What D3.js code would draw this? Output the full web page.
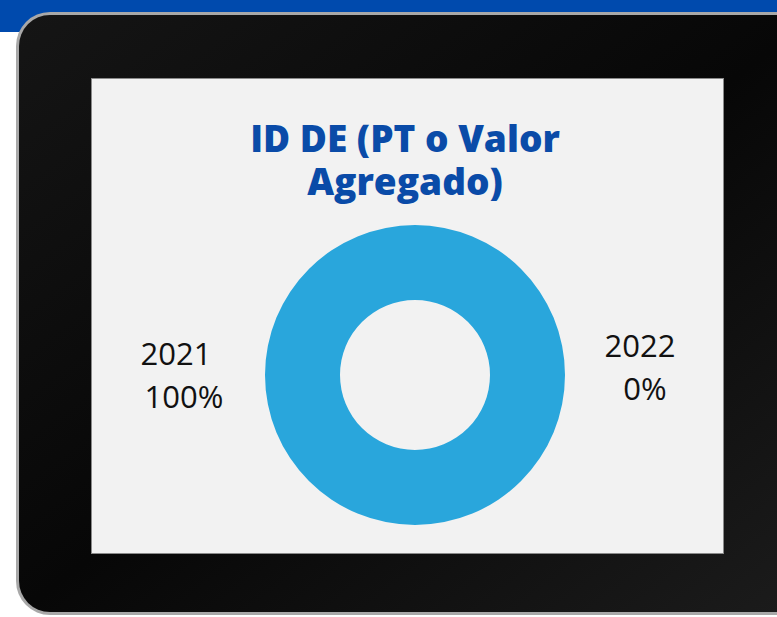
<!DOCTYPE html>
<html>
<head>
<meta charset="utf-8">
<script src="https://d3js.org/d3.v7.min.js"></script>
<style>
  body { margin: 0; background: #fff; }
  svg { display: block; }
</style>
</head>
<body>
<svg id="chart" width="777" height="617"></svg>
<script>
// chart data
var years = ["2021", "2022"];
var shares = [100, 0];
var title = ["ID DE (PT o Valor", "Agregado)"];

var W = 777, H = 617;
var svg = d3.select("#chart");
var defs = svg.append("defs");

// bezel gradient
var g1 = defs.append("linearGradient").attr("id", "bezel")
  .attr("x1", 0).attr("y1", 0).attr("x2", 1).attr("y2", 1);
g1.append("stop").attr("offset", "0%").attr("stop-color", "#151515");
g1.append("stop").attr("offset", "50%").attr("stop-color", "#070707");
g1.append("stop").attr("offset", "100%").attr("stop-color", "#1c1c1c");

// blue band behind the tablet
svg.append("rect").attr("x", 0).attr("y", 0).attr("width", W).attr("height", 32)
  .attr("fill", "#004aad");

// tablet body
svg.append("rect").attr("x", 16).attr("y", 12).attr("width", 800).attr("height", 603)
  .attr("rx", 34).attr("fill", "#a8a8a8");
svg.append("rect").attr("x", 19).attr("y", 15).attr("width", 800).attr("height", 597)
  .attr("rx", 31).attr("fill", "url(#bezel)");

// screen
var sx = 92, sy = 79, sw = 631, sh = 474;
svg.append("rect").attr("x", sx - 1).attr("y", sy - 1).attr("width", sw + 2).attr("height", sh + 2)
  .attr("fill", "#8a8a8a");
svg.append("rect").attr("x", sx).attr("y", sy).attr("width", sw).attr("height", sh)
  .attr("fill", "#f2f2f2");

// title
svg.append("text")
  .attr("x", 405).attr("y", 152)
  .attr("text-anchor", "middle")
  .attr("font-family", "'Open Sans', 'Noto Sans', sans-serif")
  .attr("font-weight", 800)
  .attr("font-size", 37)
  .attr("fill", "#0a4ba8")
  .selectAll("tspan").data(title).enter().append("tspan")
  .attr("x", 405)
  .attr("dy", function(d, i) { return i ? 43 : 0; })
  .text(function(d) { return d; });

// donut
var cx = 415, cy = 375, rOuter = 150, rInner = 75;
var pie = d3.pie().sort(null).value(function(d) { return d; });
var arc = d3.arc().innerRadius(rInner).outerRadius(rOuter);
var color = d3.scaleOrdinal().domain(years).range(["#29a6dc", "#0a4ba8"]);

svg.append("g").attr("transform", "translate(" + cx + "," + cy + ")")
  .selectAll("path").data(pie(shares)).enter().append("path")
  .attr("d", arc)
  .attr("fill", function(d, i) { return color(years[i]); });

// labels
var labelPos = [
  { x: 176, y: 365, x2: 184 },
  { x: 640, y: 357, x2: 645 }
];
var lab = svg.append("g")
  .attr("font-family", "'Open Sans', 'Noto Sans', sans-serif")
  .attr("font-size", 31)
  .attr("fill", "#111")
  .attr("text-anchor", "middle");
years.forEach(function(y, i) {
  var t = lab.append("text").attr("x", labelPos[i].x).attr("y", labelPos[i].y);
  t.append("tspan").attr("x", labelPos[i].x).text(y);
  t.append("tspan").attr("x", labelPos[i].x2).attr("dy", 43).text(shares[i] + "%");
});
</script>
</body>
</html>
